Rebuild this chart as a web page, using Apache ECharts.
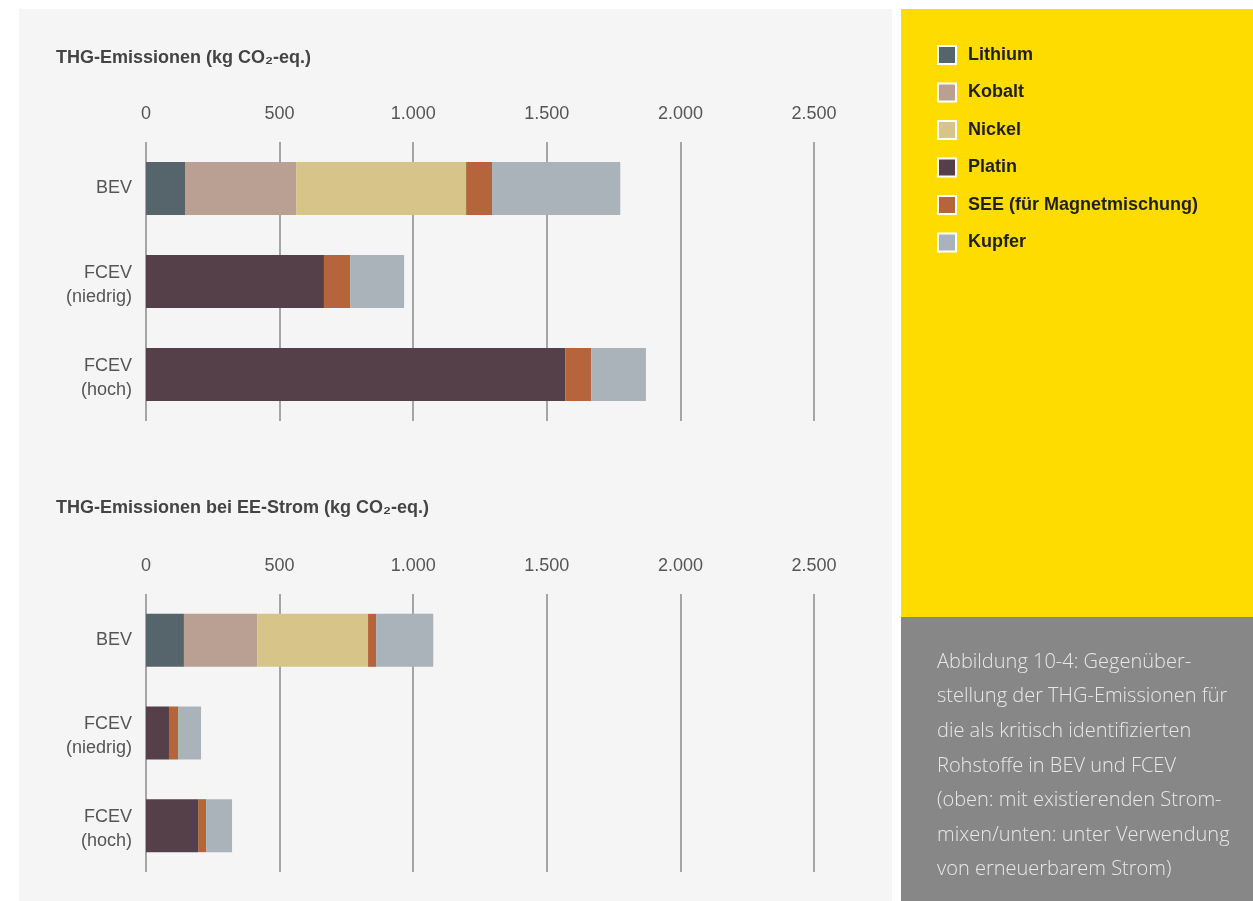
<!DOCTYPE html>
<html>
<head>
<meta charset="utf-8">
<script src="https://cdn.jsdelivr.net/npm/echarts@6/dist/echarts.min.js"></script>
<style>
html,body{margin:0;padding:0;background:#ffffff;}
#c{width:1253px;height:901px;}
</style>
</head>
<body>
<div id="c"></div>
<script>
// ---- data ----
var categories = ['BEV', 'FCEV\n(niedrig)', 'FCEV\n(hoch)'];
var materials = ['Lithium', 'Kobalt', 'Nickel', 'Platin', 'SEE (für Magnetmischung)', 'Kupfer'];
var colors = ['#56646b', '#b9a092', '#d7c489', '#553f49', '#b5643b', '#a9b3b9'];
var tickValues = [0, 500, 1000, 1500, 2000, 2500];

// top chart: existing electricity mix (kg CO2-eq.)
var topLithium = [146, '-', '-'];
var topKobalt  = [416, '-', '-'];
var topNickel  = [636, '-', '-'];
var topPlatin  = ['-', 666, 1569];
var topSEE     = [97, 98, 97];
var topKupfer  = [480, 202, 205];

// bottom chart: renewable electricity (kg CO2-eq.)
var botLithium = [142, '-', '-'];
var botKobalt  = [274, '-', '-'];
var botNickel  = [415, '-', '-'];
var botPlatin  = ['-', 86, 195];
var botSEE     = [30, 34, 30];
var botKupfer  = [214, 86, 97];

var topData = [topLithium, topKobalt, topNickel, topPlatin, topSEE, topKupfer];
var botData = [botLithium, botKobalt, botNickel, botPlatin, botSEE, botKupfer];

var captionLines = [
  'Abbildung 10-4: Gegenüber-',
  'stellung der THG-Emissionen für',
  'die als kritisch identifizierten',
  'Rohstoffe in BEV und FCEV',
  '(oben: mit existierenden Strom-',
  'mixen/unten: unter Verwendung',
  'von erneuerbarem Strom)'
];

// ---- chart ----
var FONT = 'Liberation Sans, Arial, sans-serif';
function fmt(v) { return String(v).replace(/\B(?=(\d{3})+(?!\d))/g, '.'); }
function catFmt(v) {
  var parts = String(v).split('\n');
  if (parts.length === 1) return '{a|' + v + '}';
  return '{s| }\n' + parts.map(function (p) { return '{a|' + p + '}'; }).join('\n');
}

function xAxisDef(gi) {
  return {
    gridIndex: gi, type: 'value', position: 'top',
    min: tickValues[0], max: tickValues[tickValues.length - 1],
    interval: tickValues[1] - tickValues[0],
    axisLine: {show: false}, axisTick: {show: false},
    axisLabel: {margin: 19, color: '#555', fontSize: 18, fontFamily: FONT, formatter: fmt},
    splitLine: {show: true, lineStyle: {color: '#8a8a8a', width: 1.5}}
  };
}
function yAxisDef(gi) {
  return {
    gridIndex: gi, type: 'category', data: categories, inverse: true,
    axisLine: {show: false}, axisTick: {show: false},
    axisLabel: {
      margin: 14, align: 'right', formatter: catFmt,
      rich: {
        a: {color: '#555', fontSize: 18, lineHeight: 24, fontFamily: FONT, align: 'right'},
        s: {fontSize: 1, lineHeight: 7}
      }
    },
    splitLine: {show: false}
  };
}

var series = [];
[topData, botData].forEach(function (set, gi) {
  set.forEach(function (vals, i) {
    series.push({
      name: materials[i], type: 'bar', stack: 's' + gi,
      xAxisIndex: gi, yAxisIndex: gi,
      barWidth: 53, data: vals,
      itemStyle: {color: colors[i]},
      emphasis: {disabled: true}
    });
  });
});

var graphics = [
  {type: 'rect', shape: {x: 19, y: 9, width: 873, height: 892}, style: {fill: '#f5f5f5'}, z: -10, silent: true},
  {type: 'rect', shape: {x: 901, y: 9, width: 352, height: 608}, style: {fill: '#ffdc00'}, z: -10, silent: true},
  {type: 'rect', shape: {x: 901, y: 617, width: 352, height: 284}, style: {fill: '#878787'}, z: -10, silent: true}
];
captionLines.forEach(function (t, i) {
  graphics.push({
    type: 'text', left: 937, top: 652 + i * 34.6, silent: true,
    style: {text: t, fill: '#e8e8e8', font: '300 20px "Open Sans", "Liberation Sans", sans-serif'}
  });
});

var chart = echarts.init(document.getElementById('c'), null, {renderer: 'canvas'});
chart.setOption({
  animation: false,
  backgroundColor: '#ffffff',
  title: [
    {text: 'THG-Emissionen (kg CO₂-eq.)', left: 56, top: 49, padding: 0,
     textStyle: {fontSize: 18, fontWeight: 'bold', color: '#444', fontFamily: FONT}},
    {text: 'THG-Emissionen bei EE-Strom (kg CO₂-eq.)', left: 56, top: 499, padding: 0,
     textStyle: {fontSize: 18, fontWeight: 'bold', color: '#444', fontFamily: FONT}}
  ],
  legend: {
    orient: 'vertical', left: 937, top: 45, padding: 0,
    itemWidth: 18, itemHeight: 18, itemGap: 17.5,
    icon: 'rect',
    itemStyle: {borderColor: '#ffffff', borderWidth: 2},
    textStyle: {fontSize: 18, color: '#1f1f1f', fontWeight: 'bold', fontFamily: FONT, padding: [0, 0, 0, 7]},
    selectedMode: false,
    data: materials
  },
  grid: [
    {left: 146, top: 142, width: 668, height: 279},
    {left: 146, top: 594, width: 668, height: 278}
  ],
  xAxis: [xAxisDef(0), xAxisDef(1)],
  yAxis: [yAxisDef(0), yAxisDef(1)],
  graphic: graphics,
  series: series
});
</script>
</body>
</html>
